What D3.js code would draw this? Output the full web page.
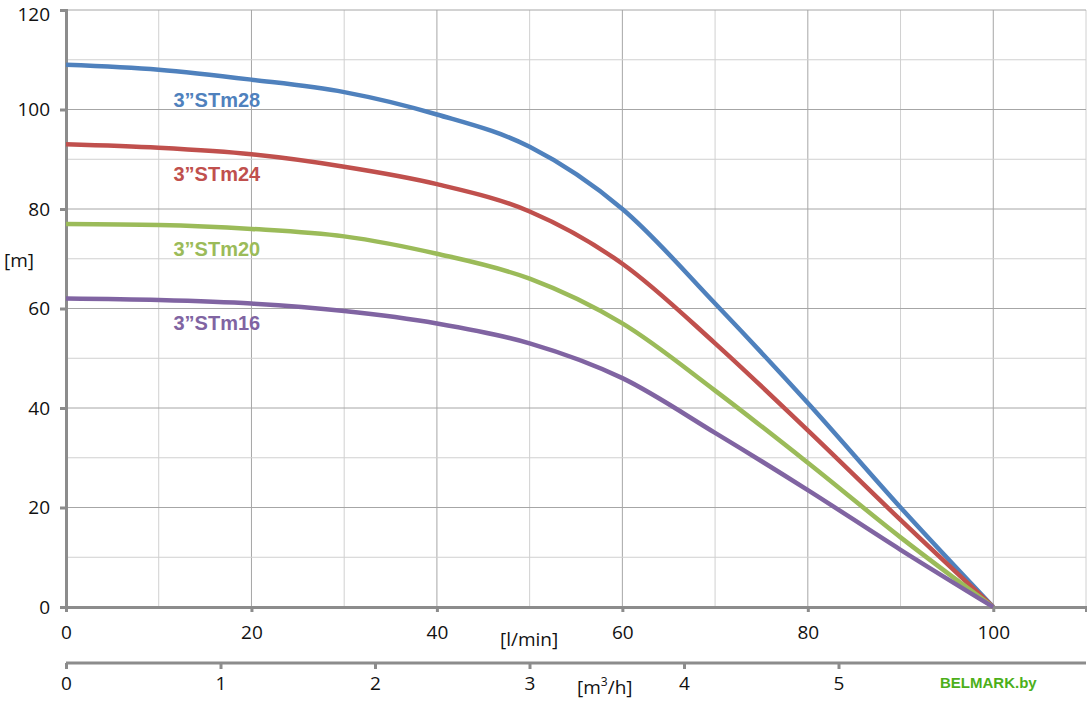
<!DOCTYPE html>
<html><head><meta charset="utf-8">
<script src="https://cdn.jsdelivr.net/npm/d3@7"></script>
<style>body{margin:0;background:#fff}svg text{font-family:"Open Sans",sans-serif}svg text.bold{font-family:"Liberation Sans",Arial,sans-serif;font-weight:bold}</style>
</head><body><div id="chart"></div>
<script>
const flow = [0, 10, 20, 30, 40, 50, 60, 70, 80, 90, 100];
const stm28 = [109, 108, 106, 103.5, 99, 92.5, 80, 61, 41, 20, 0];
const stm24 = [93, 92.3, 91, 88.5, 85, 79.5, 69, 53, 35.5, 17.5, 0];
const stm20 = [77, 76.8, 76, 74.5, 71, 66, 57, 43.5, 29, 14, 0];
const stm16 = [62, 61.7, 61, 59.5, 57, 53, 46, 35, 23.5, 11.5, 0];
const names = ["3”STm28", "3”STm24", "3”STm20", "3”STm16"];
const colors = ["#4f81bd", "#c0504d", "#9bbb59", "#8064a2"];
const labelPos = [[20, 102], [20, 87], [20, 72], [20, 57]];
const lminTicks = [0, 20, 40, 60, 80, 100];
const m3hTicks = [0, 1, 2, 3, 4, 5];

const svg = d3.select("#chart").append("svg").attr("width", 1087).attr("height", 704);
const x = d3.scaleLinear().domain([0, 110]).range([66, 1086]);
const y = d3.scaleLinear().domain([0, 120]).range([607, 10]);
const x2 = d3.scaleLinear().domain([0, 6]).range([66, 993]);

// grille
svg.append("g").selectAll("line").data(d3.range(10, 111, 10)).enter().append("line")
    .attr("x1", d => x(d)).attr("x2", d => x(d)).attr("y1", y(0)).attr("y2", y(120))
    .attr("stroke", d => d % 20 ? "#d0d0d0" : "#a6a6a6");
svg.append("g").selectAll("line").data(d3.range(10, 121, 10)).enter().append("line")
    .attr("x1", x(0)).attr("x2", x(110)).attr("y1", d => y(d)).attr("y2", d => y(d))
    .attr("stroke", d => d % 20 ? "#d0d0d0" : "#a6a6a6");

// axes
const yAxis = svg.append("g").attr("transform", "translate(66,0)")
    .call(d3.axisLeft(y).tickValues(d3.range(0, 121, 20)).tickSize(6).tickPadding(10));
yAxis.selectAll(".tick text").filter(d => d === 120).attr("dy", "0.55em");
const xAxis = svg.append("g").attr("transform", "translate(0,607)")
    .call(d3.axisBottom(x).tickValues(lminTicks).tickSize(5).tickPadding(14));
const xAxis2 = svg.append("g").attr("transform", "translate(0,663)")
    .call(d3.axisBottom(x2).tickValues(m3hTicks).tickFormat(d3.format("d")).tickSize(6).tickPadding(8));
xAxis2.select(".domain").attr("d", "M66,0H1086");
[yAxis, xAxis, xAxis2].forEach(a => {
    a.selectAll(".domain").attr("stroke", "#8c8c8c").attr("stroke-width", 3);
    a.selectAll(".tick line").attr("stroke", "#8c8c8c").attr("stroke-width", 3);
    a.selectAll("text").attr("font-size", 19).attr("fill", "#111");
});

// courbes
const line = d3.line().x((d, i) => x(flow[i])).y(d => y(d)).curve(d3.curveMonotoneX);
[stm28, stm24, stm20, stm16].forEach((s, i) => {
    svg.append("path").datum(s).attr("d", line).attr("fill", "none")
        .attr("stroke", colors[i]).attr("stroke-width", 4.5);
    svg.append("text").attr("class", "bold").attr("x", x(labelPos[i][0]) - 78).attr("y", y(labelPos[i][1]) + 7)
        .attr("font-size", 20).attr("fill", colors[i]).text(names[i]);
});

// libellés
svg.append("text").attr("x", 4).attr("y", 267).attr("font-size", 19).attr("fill", "#111").text("[m]");
svg.append("text").attr("x", 500).attr("y", 646).attr("font-size", 19).attr("fill", "#111").text("[l/min]");
const t = svg.append("text").attr("x", 577).attr("y", 694).attr("font-size", 19).attr("fill", "#111");
t.append("tspan").text("[m");
t.append("tspan").attr("font-size", 12).attr("dy", -8).text("3");
t.append("tspan").attr("dy", 8).text("/h]");
svg.append("text").attr("class", "bold").attr("x", 940).attr("y", 688)
    .attr("font-size", 15).attr("fill", "#4caf1a").text("BELMARK.by");
</script></body></html>
